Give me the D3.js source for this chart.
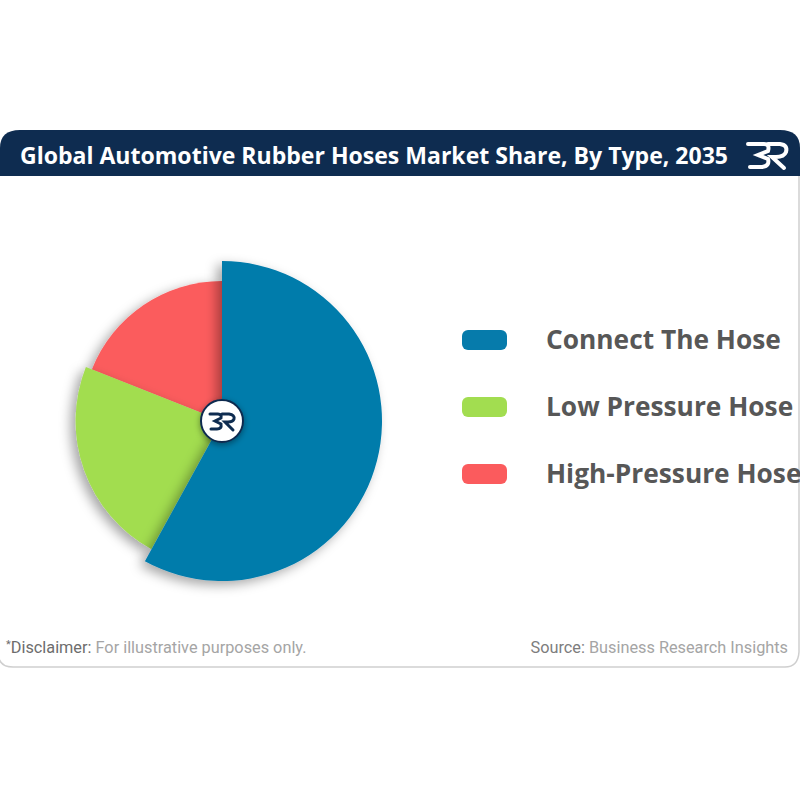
<!DOCTYPE html>
<html><head><meta charset="utf-8">
<script src="https://cdn.jsdelivr.net/npm/d3@7"></script>
<style>body{margin:0;background:#fff}svg{display:block}</style>
</head><body>
<svg id="c" width="800" height="800"></svg>
<script>
const categories = ["Connect The Hose", "Low Pressure Hose", "High-Pressure Hose"];
const shares = [58, 23, 19];
const radiiFactor = [1.0, 0.915, 0.875];
const colors = ["#067bab", "#a2dd50", "#fb5b5d"];
const titleText = "Global Automotive Rubber Hoses Market Share, By Type, 2035";

const svg = d3.select("#c");
const defs = svg.append("defs");
const f = defs.append("filter").attr("id","sh").attr("x","-30%").attr("y","-30%").attr("width","160%").attr("height","160%");
f.append("feDropShadow").attr("dx",-5).attr("dy",4).attr("stdDeviation",6).attr("flood-color","#000").attr("flood-opacity",0.35);
const f2 = defs.append("filter").attr("id","sh2").attr("x","-50%").attr("y","-50%").attr("width","200%").attr("height","200%");
f2.append("feDropShadow").attr("dx",0).attr("dy",2).attr("stdDeviation",3).attr("flood-color","#000").attr("flood-opacity",0.4);

// card border
svg.append("path")
  .attr("d","M -2 150 L -2 652 Q -2 667 13 667 L 785 667 Q 798 667 799 652 L 799 150")
  .attr("fill","#fff").attr("stroke","#cfcfcf").attr("stroke-width",1.5);
// header
svg.append("path")
  .attr("d","M 0 176 L 0 148 Q 0 130 20 130 L 780 130 Q 800 130 800 148 L 800 176 Z")
  .attr("fill","#0e2c50");
svg.append("text").attr("x",20).attr("y",164)
  .attr("font-family","'Open Sans', sans-serif").attr("font-weight",700).attr("font-size",22.5)
  .attr("textLength",708).attr("lengthAdjust","spacingAndGlyphs")
  .attr("fill","#fff").text(titleText);
// header logo
const hl = svg.append("g").attr("transform","translate(746,140)").attr("fill","none").attr("stroke","#fff").attr("stroke-width",4).attr("stroke-linecap","round");
hl.append("path").attr("d","M2 4 L18 4 Q24 4 22 11 L12 15 L22 19 Q24 26 16 27 L4 27");
hl.append("path").attr("d","M22 4 L34 4 Q42 5 40 12 Q38 17 30 17 L26 17 L38 28");

// pie
const cx = 222, cy = 421, R = 160;
const pie = d3.pie().sort(null).value(d => d)(shares);
const g = svg.append("g").attr("transform",`translate(${cx},${cy})`);
const arcs = pie.map((p,i) => ({...p, i}));
[2,1,0].forEach(k => {
  const p = arcs[k];
  g.append("path")
    .attr("d", d3.arc().innerRadius(0).outerRadius(R*radiiFactor[k])(p))
    .attr("fill", colors[k]).attr("filter","url(#sh)");
});
// center logo
const lg = g.append("g");
lg.append("circle").attr("r",21).attr("fill","#fff").attr("stroke","#0e2c50").attr("stroke-width",2).attr("filter","url(#sh2)");
const lp = lg.append("g").attr("transform","translate(-13,-9)").attr("fill","none").attr("stroke","#0e2c50").attr("stroke-width",3).attr("stroke-linecap","round");
lp.append("path").attr("d","M1 2 L9 2 Q13 2 12 6 L6 9 L12 12 Q13 17 8 17 L2 17");
lp.append("path").attr("d","M13 2 L20 2 Q26 3 25 7 Q24 10 19 10 L16 10 L24 18");

// legend
const lgd = svg.append("g");
categories.forEach((c,i) => {
  const y = 340 + i*67;
  lgd.append("rect").attr("x",462).attr("y",y-10).attr("width",45).attr("height",20).attr("rx",6).attr("fill",colors[i]);
  lgd.append("text").attr("x",546).attr("y",y+9).attr("font-family","'Open Sans', sans-serif")
    .attr("font-weight",700).attr("font-size",26.3).attr("fill","#575757").text(c);
});

// footer
const ft = svg.append("text").attr("x",6).attr("y",653).attr("font-family","Roboto, sans-serif").attr("font-size",16.3);
ft.append("tspan").attr("fill","#6d6d6d").attr("font-size",11).attr("dy",-5).text("*");
ft.append("tspan").attr("fill","#6d6d6d").attr("dy",5).text("Disclaimer: ");
ft.append("tspan").attr("fill","#a5a5a5").text("For illustrative purposes only.");
const fs = svg.append("text").attr("x",788).attr("y",653).attr("text-anchor","end").attr("font-family","Roboto, sans-serif").attr("font-size",16.3);
fs.append("tspan").attr("fill","#7d7d7d").text("Source: ");
fs.append("tspan").attr("fill","#a5a5a5").text("Business Research Insights");
</script>
</body></html>
